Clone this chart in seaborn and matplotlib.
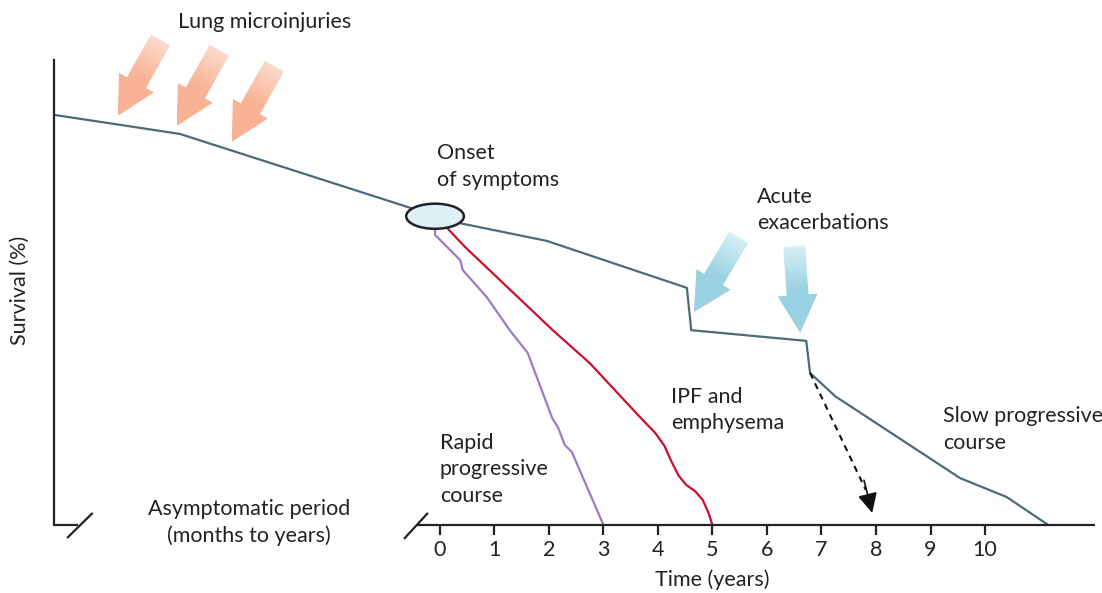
import numpy as np
import matplotlib
matplotlib.use('Agg')
import matplotlib.pyplot as plt
import seaborn as sns
from matplotlib.patches import Polygon, Ellipse
from matplotlib.colors import LinearSegmentedColormap

sns.set_style('white')
plt.rcParams['font.family'] = ['Lato', 'DejaVu Sans']

# Data (time in years relative to onset of symptoms, survival in %)
slow_x = [-7.08, -5.50, -4.77, -0.09, 0.37, 1.96, 2.24, 4.53, 4.61, 6.72, 6.79, 7.25, 9.54, 10.40, 11.16]
slow_y = [88.2, 85.4, 84.1, 66.5, 64.9, 61.1, 60.0, 51.0, 41.9, 39.6, 32.7, 27.7, 10.1, 6.0, 0.0]

rapid_x = [-0.09, -0.09, 0.37, 0.42, 0.86, 1.28, 1.61, 2.06, 2.17, 2.29, 2.42, 3.0]
rapid_y = [63.9, 62.4, 57.0, 54.8, 49.0, 41.9, 37.0, 23.0, 20.9, 17.2, 15.7, 0.0]

ipf_x = [0.13, 0.46, 2.07, 2.75, 3.67, 3.95, 4.12, 4.25, 4.38, 4.52, 4.68, 4.82, 4.92, 5.0]
ipf_y = [63.9, 59.8, 41.9, 34.8, 23.2, 19.8, 17.0, 13.6, 10.6, 8.6, 7.3, 5.4, 2.8, 0.0]

year_ticks = list(range(11))

# annotation anchors (data coords)
onset = (-0.09, 66.4)
injury_tips = [(-5.91, 88.0), (-4.83, 85.8), (-3.82, 82.4)]
exacerbation_tips = [(4.66, 45.8), (6.61, 41.3)]
decline_start = (6.79, 32.7)
decline_end = (7.93, 2.6)

W, H = 1102, 593
fig = plt.figure(figsize=(W / 100, H / 100), dpi=100)
fig.patch.set_facecolor('white')

# pixel overlay for the fat gradient arrows
deco = fig.add_axes([0, 0, 1, 1], zorder=0)
deco.set_xlim(0, W)
deco.set_ylim(0, H)
deco.axis('off')

ax = fig.add_axes([54 / W, (H - 525) / H, (1099.5 - 54) / W, 465 / H], zorder=1)
ax.patch.set_alpha(0)
ax.set_xlim(-7.08, 12.1)
ax.set_ylim(0, 100)

slate = '#4b6b78'
sns.lineplot(x=slow_x, y=slow_y, estimator=None, sort=False, color=slate, lw=1.6, ax=ax)
sns.lineplot(x=rapid_x, y=rapid_y, estimator=None, sort=False, color='#9b7bc6', lw=1.6, ax=ax)
sns.lineplot(x=ipf_x, y=ipf_y, estimator=None, sort=False, color='#c8102e', lw=1.6, ax=ax)

ax.add_patch(Ellipse(onset, 1.06, 5.4, facecolor='#ddf0f5', edgecolor='#222222', lw=1.8, zorder=5))

# spines and broken axis
for s in ['top', 'right', 'bottom']:
    ax.spines[s].set_visible(False)
ax.spines['left'].set_linewidth(1.6)
ax.spines['left'].set_color('#222222')
kw = dict(color='#222222', lw=1.6, clip_on=False, solid_capstyle='butt')
ax.plot([-7.08, -6.64], [0, 0], **kw)
ax.plot([-6.84, -6.37], [-2.8, 2.6], **kw)
ax.plot([-0.44, 12.02], [0, 0], **kw)
ax.plot([-0.66, -0.22], [-3.0, 2.6], **kw)

ax.set_xticks(year_ticks)
ax.set_xticklabels([str(t) for t in year_ticks])
ax.set_yticks([])
ax.tick_params(axis='x', bottom=True, direction='out', length=7.5, width=1.6,
               color='#222222', labelsize=15.5, pad=3.5, labelcolor='#222222')
ax.set_xlabel('')
ax.set_ylabel('')

txt = dict(fontsize=15.5, color='#222222', linespacing=1.4)
ax.text(-0.033, 0.505, 'Survival (%)', transform=ax.transAxes, rotation=90,
        ha='center', va='center', **txt)
ax.text(5.0, -11.8, 'Time (years)', ha='center', va='center', clip_on=False, **txt)
ax.text(-3.5, 0.5, 'Asymptomatic period\n(months to years)', ha='center', va='center', **txt)
ax.text(-4.8, 108.2, 'Lung microinjuries', ha='left', va='center', clip_on=False, **txt)
ax.text(-0.06, 77.1, 'Onset\nof symptoms', ha='left', va='center', **txt)
ax.text(5.81, 67.8, 'Acute\nexacerbations', ha='left', va='center', **txt)
ax.text(4.24, 24.7, 'IPF and\nemphysema', ha='left', va='center', **txt)
ax.text(0.0, 12.0, 'Rapid\nprogressive\ncourse', ha='left', va='center', **txt)
ax.text(9.23, 20.5, 'Slow progressive\ncourse', ha='left', va='center', **txt)

# dashed decline arrow
ax.plot([decline_start[0], decline_end[0] - 0.12], [decline_start[1], decline_end[1] + 5.0],
        color='#111111', lw=1.5, ls=(0, (3, 2.5)))
ax.annotate('', xy=decline_end, xytext=(decline_end[0] - 0.15, decline_end[1] + 7.0),
            arrowprops=dict(arrowstyle='-|>,head_length=1.2,head_width=0.6',
                            color='#111111', lw=1.2, shrinkA=0, shrinkB=0))


def fat_arrow(tip_data, angle_deg, head_col, tail_col, L=87, hl=38, hw=40, sw=22):
    # tip in display pixels, arrow points from tail toward tip
    tx, ty = ax.transData.transform(tip_data)
    a = np.deg2rad(angle_deg)
    d = np.array([np.cos(a), np.sin(a)])      # tip -> tail
    n = np.array([-d[1], d[0]])
    tip = np.array([tx, ty])
    local = [(0, 0), (hl, hw / 2), (hl, sw / 2), (L, sw / 2),
             (L, -sw / 2), (hl, -sw / 2), (hl, -hw / 2)]
    pts = np.array([tip + u * d + v * n for u, v in local])
    patch = Polygon(pts, closed=True, facecolor='none', edgecolor='none')
    deco.add_patch(patch)
    x0, y0 = pts.min(axis=0)
    x1, y1 = pts.max(axis=0)
    gx, gy = np.meshgrid(np.linspace(x0, x1, 120), np.linspace(y0, y1, 120))
    t = ((gx - tx) * d[0] + (gy - ty) * d[1]) / L
    cmap = LinearSegmentedColormap.from_list('g', [head_col, head_col, tail_col])
    im = deco.imshow(np.clip(t, 0, 1), cmap=cmap, vmin=0, vmax=1, origin='lower',
                     extent=[x0, x1, y0, y1], aspect='auto', interpolation='bilinear')
    im.set_clip_path(patch)


for tip in injury_tips:
    fat_arrow(tip, 60.6, '#f8b294', '#fcdccd')
fat_arrow(exacerbation_tips[0], 59.0, '#9ad2e3', '#d8eff6')
fat_arrow(exacerbation_tips[1], 94.0, '#9ad2e3', '#d8eff6')
deco.set_xlim(0, W)
deco.set_ylim(0, H)

fig.savefig('out.png', dpi=100, facecolor='white')
